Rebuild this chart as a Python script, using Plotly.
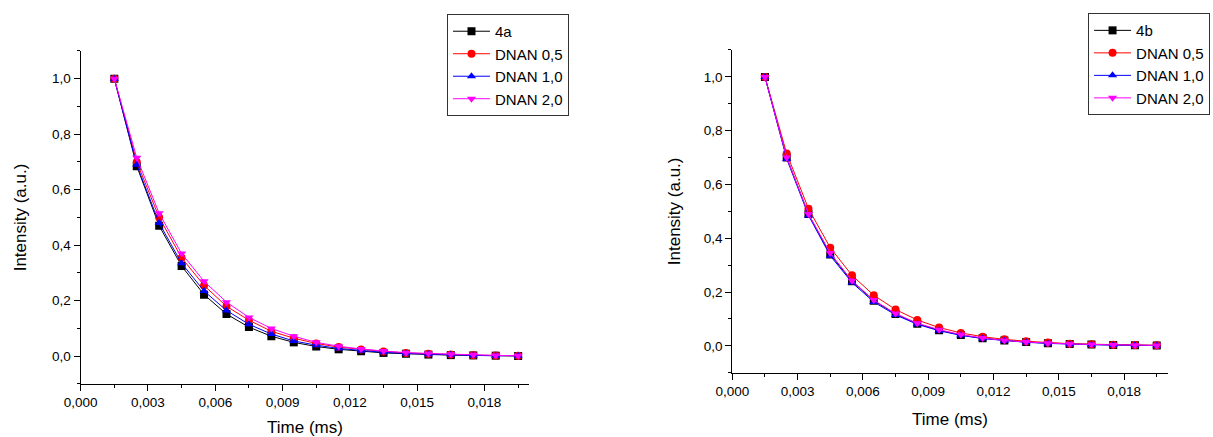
import plotly.graph_objects as go

time_ms = [0.0015, 0.0025, 0.0035, 0.0045, 0.0055, 0.0065, 0.0075, 0.0085, 0.0095, 0.0105,
           0.0115, 0.0125, 0.0135, 0.0145, 0.0155, 0.0165, 0.0175, 0.0185, 0.0195]

# Left panel (4a)
a_4a = [1.0, 0.685, 0.47, 0.325, 0.222, 0.152, 0.105, 0.072, 0.050, 0.035,
        0.025, 0.018, 0.012, 0.009, 0.006, 0.004, 0.003, 0.002, 0.001]
a_dnan05 = [1.0, 0.70, 0.50, 0.355, 0.255, 0.180, 0.130, 0.090, 0.065, 0.046,
            0.033, 0.024, 0.017, 0.012, 0.009, 0.006, 0.004, 0.003, 0.002]
a_dnan10 = [1.0, 0.69, 0.48, 0.335, 0.235, 0.165, 0.115, 0.080, 0.055, 0.040,
            0.028, 0.020, 0.014, 0.010, 0.007, 0.005, 0.003, 0.002, 0.002]
a_dnan20 = [1.0, 0.715, 0.515, 0.370, 0.270, 0.195, 0.140, 0.100, 0.072, 0.050,
            0.036, 0.026, 0.019, 0.013, 0.010, 0.007, 0.005, 0.003, 0.002]

# Right panel (4b)
b_4b = [1.0, 0.70, 0.49, 0.340, 0.240, 0.168, 0.118, 0.082, 0.058, 0.040,
        0.028, 0.020, 0.014, 0.010, 0.007, 0.005, 0.003, 0.002, 0.0015]
b_dnan05 = [1.0, 0.715, 0.51, 0.365, 0.262, 0.188, 0.135, 0.096, 0.068, 0.048,
            0.034, 0.024, 0.017, 0.012, 0.008, 0.006, 0.004, 0.003, 0.002]
b_dnan10 = [1.0, 0.695, 0.485, 0.335, 0.235, 0.163, 0.115, 0.080, 0.056, 0.039,
            0.027, 0.019, 0.013, 0.009, 0.006, 0.004, 0.003, 0.002, 0.001]
b_dnan20 = [1.0, 0.70, 0.49, 0.345, 0.242, 0.170, 0.120, 0.084, 0.060, 0.042,
            0.029, 0.020, 0.014, 0.010, 0.007, 0.005, 0.003, 0.002, 0.0015]

x_ticks = [0.0, 0.003, 0.006, 0.009, 0.012, 0.015, 0.018]
y_ticks = [0.0, 0.2, 0.4, 0.6, 0.8, 1.0]

names_left = ["4a", "DNAN 0,5", "DNAN 1,0", "DNAN 2,0"]
names_right = ["4b", "DNAN 0,5", "DNAN 1,0", "DNAN 2,0"]
colors = ["#000000", "#FF0000", "#0000FF", "#FF00FF"]
symbols = ["square", "circle", "triangle-up", "triangle-down"]

FONT = "Liberation Sans, Arial, sans-serif"

fig = go.Figure()

for ys, nm, c, s in zip([a_4a, a_dnan05, a_dnan10, a_dnan20], names_left, colors, symbols):
    fig.add_trace(go.Scatter(x=time_ms, y=ys, name=nm, mode="lines+markers",
                             line=dict(color=c, width=1),
                             marker=dict(color=c, symbol=s, size=8),
                             xaxis="x", yaxis="y", legend="legend"))

for ys, nm, c, s in zip([b_4b, b_dnan05, b_dnan10, b_dnan20], names_right, colors, symbols):
    fig.add_trace(go.Scatter(x=time_ms, y=ys, name=nm, mode="lines+markers",
                             line=dict(color=c, width=1),
                             marker=dict(color=c, symbol=s, size=8),
                             xaxis="x2", yaxis="y2", legend="legend2"))

def xax(domain, anchor, standoff):
    return dict(domain=domain, anchor=anchor, range=[0, 0.02], automargin=False,
                tickmode="array", tickvals=x_ticks, tickformat=".3f",
                ticks="outside", ticklen=6, tickwidth=1, tickcolor="black",
                minor=dict(dtick=0.0015, tick0=0, ticks="outside", ticklen=3, tickcolor="black"),
                showline=True, linecolor="black", linewidth=1.3, mirror=False,
                showgrid=False, zeroline=False,
                tickfont=dict(size=13.5, color="black", family=FONT),
                title=dict(text="Time (ms)", font=dict(size=17, color="black", family=FONT),
                           standoff=standoff))

def yax(domain, anchor, standoff):
    return dict(domain=domain, anchor=anchor, range=[-0.1, 1.1], automargin=False,
                tickmode="array", tickvals=y_ticks, tickformat=".1f",
                ticks="outside", ticklen=6, tickwidth=1, tickcolor="black",
                minor=dict(dtick=0.1, tick0=0, ticks="outside", ticklen=3, tickcolor="black"),
                showline=True, linecolor="black", linewidth=1.3, mirror=False,
                showgrid=False, zeroline=False,
                tickfont=dict(size=13.5, color="black", family=FONT),
                title=dict(text="Intensity (a.u.)", font=dict(size=17, color="black", family=FONT),
                           standoff=standoff))

fig.update_layout(
    width=1213, height=437,
    margin=dict(l=0, r=0, t=0, b=0),
    paper_bgcolor="white", plot_bgcolor="white",
    separators=",.",
    font=dict(family=FONT, color="black"),
    xaxis=xax([0.0665, 0.4364], "y", 14),
    yaxis=yax([0.1213, 0.8833], "x", 21),
    xaxis2=xax([0.6037, 0.9626], "y2", 15),
    yaxis2=yax([0.1471, 0.8856], "x2", 18),
    legend=dict(x=0.3685, y=0.968, xanchor="left", yanchor="top",
                bgcolor="white", bordercolor="#333333", borderwidth=1, itemwidth=37,
                font=dict(size=15, color="black", family=FONT), tracegroupgap=0),
    legend2=dict(x=0.897, y=0.970, xanchor="left", yanchor="top",
                 bgcolor="white", bordercolor="#333333", borderwidth=1, itemwidth=37,
                 font=dict(size=15, color="black", family=FONT), tracegroupgap=0),
)

fig.write_html("out.html")
